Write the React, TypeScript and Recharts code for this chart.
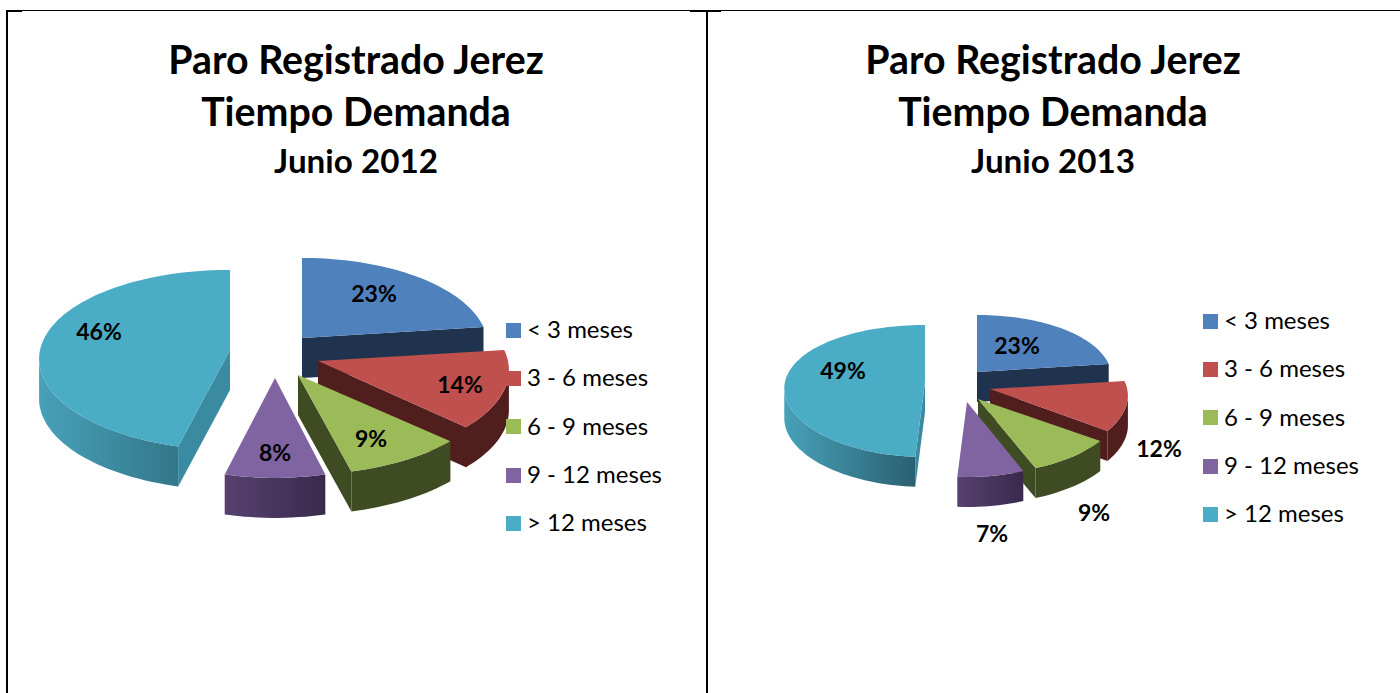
import { Legend, Pie, PieChart } from "recharts";

const categorias = ["< 3 meses", "3 - 6 meses", "6 - 9 meses", "9 - 12 meses", "> 12 meses"];
const valores2012 = [23, 14, 9, 8, 46];
const valores2013 = [23, 12, 9, 7, 49];

const colores = ["#4f81bd", "#c0504d", "#9bbb59", "#8064a2", "#4bacc6"];
const lados = [
  ["#1f334f", "#1f334f"],
  ["#4f1e1d", "#4f1e1d"],
  ["#3f4b23", "#3f4b23"],
  ["#574170", "#392a4c"],
  ["#47a1b9", "#33778a"],
];
const cortes = ["#1f334f", "#4f1e1d", "#3f4b23", "#392a4c", "#3a8aa1"];

interface Vista {
  id: string;
  izquierda: number;
  ancho: number;
  cx: number;
  cy: number;
  radio: number;
  ry: number;
  q: number;
  fondo: number;
  despl: number[][];
  escala: number[];
  etiquetas: number[][];
  legendX: number;
  legendY: number;
  lados: string[][];
}

const vista2012: Vista = {
  id: "a",
  izquierda: 8,
  ancho: 698,
  cx: 264,
  cy: 350,
  radio: 190,
  ry: 90,
  q: 0.11,
  fondo: 40,
  despl: [[30, -12], [46, 11], [26, 25], [3, 28], [-42, 0]],
  escala: [0.975, 1, 1.03, 0.97, 1],
  etiquetas: [[102, -57], [188, 34], [99, 88], [3, 102], [-173, -19]],
  legendX: 498,
  legendY: 306,
  lados,
};

const vista2013: Vista = {
  id: "b",
  izquierda: 708,
  ancho: 692,
  cx: 252,
  cy: 375,
  radio: 140,
  ry: 66,
  q: 0.136,
  fondo: 30,
  despl: [[17, -3], [30, 14], [18, 24], [7, 27], [-35, 7]],
  escala: [0.96, 0.98, 1.02, 1, 1],
  etiquetas: [[57, -30], [199, 73], [134, 137], [32, 158], [-117, -5]],
  legendX: 495,
  legendY: 297,
  lados: [lados[0], lados[1], lados[2], lados[3], ["#47a1b9", "#2b6071"]],
};

const FUENTE = "Lato, Carlito, sans-serif";
const PERSPECTIVA = 0.1;

// punto del disco inclinado: t es el angulo desde las 12 en sentido horario
function punto(v: Vista, i: number, ax: number, ay: number, t: number) {
  const rad = (t * Math.PI) / 180;
  const a = Math.sin(rad);
  const b = -Math.cos(rad);
  return [ax + v.radio * v.escala[i] * a * (1 + PERSPECTIVA * b), ay + v.ry * (b + v.q * b * b)];
}

function arco(v: Vista, i: number, ax: number, ay: number, t0: number, t1: number, dy = 0) {
  const pts: number[][] = [];
  const n = Math.max(2, Math.ceil(Math.abs(t1 - t0) / 2));
  for (let j = 0; j <= n; j++) {
    const p = punto(v, i, ax, ay, t0 + ((t1 - t0) * j) / n);
    pts.push([p[0], p[1] + dy]);
  }
  return pts;
}

const trazo = (pts: number[][]) =>
  "M" + pts.map((p) => `${p[0].toFixed(1)} ${p[1].toFixed(1)}`).join("L") + "Z";

function crearSector(v: Vista) {
  return function Sector3D(props: any) {
    const i = categorias.indexOf(props.name);
    const ax = props.cx + v.despl[i][0];
    const ay = props.cy + v.despl[i][1];
    const t0 = 90 - props.startAngle;
    const t1 = 90 - props.endAngle;
    const s0 = Math.sin((t0 * Math.PI) / 180);
    const s1 = Math.sin((t1 * Math.PI) / 180);
    const g0 = Math.max(t0, 96);
    const g1 = Math.min(t1, 264);
    const corte = (t: number) => {
      const p = punto(v, i, ax, ay, t);
      return [[ax, ay], p, [p[0], p[1] + v.fondo], [ax, ay + v.fondo]];
    };
    const gid = `lado-${v.id}-${i}`;
    const curva =
      g1 > g0 ? [...arco(v, i, ax, ay, g0, g1), ...arco(v, i, ax, ay, g1, g0, v.fondo)] : null;
    return (
      <g>
        <defs>
          <linearGradient id={gid} x1="0" y1="0" x2="1" y2="0">
            <stop offset="0" stopColor={v.lados[i][0]} />
            <stop offset="1" stopColor={v.lados[i][1]} />
          </linearGradient>
        </defs>
        {s1 > 0.001 && <path d={trazo(corte(t1))} fill={cortes[i]} />}
        {s0 < -0.001 && <path d={trazo(corte(t0))} fill={cortes[i]} />}
        {curva && <path d={trazo(curva)} fill={`url(#${gid})`} />}
        <path d={trazo([[ax, ay], ...arco(v, i, ax, ay, t0, t1)])} fill={colores[i]} />
      </g>
    );
  };
}

function crearEtiqueta(v: Vista) {
  return function Etiqueta(props: any) {
    const i = categorias.indexOf(props.name);
    return (
      <text
        x={props.cx + v.etiquetas[i][0]}
        y={props.cy + v.etiquetas[i][1]}
        textAnchor="middle"
        dominantBaseline="central"
        fontFamily={FUENTE}
        fontWeight={700}
        fontSize={23}
        fill="#000"
      >
        {props.value}%
      </text>
    );
  };
}

function Leyenda() {
  return (
    <div>
      {categorias.map((c, i) => (
        <div key={c} style={{ display: "flex", alignItems: "center", height: 48.3 }}>
          <span style={{ width: 15, height: 15, background: colores[i], marginRight: 6, flex: "none" }} />
          <span style={{ fontFamily: FUENTE, fontSize: 24, lineHeight: "46px", marginTop: -2, color: "#000", whiteSpace: "nowrap" }}>{c}</span>
        </div>
      ))}
    </div>
  );
}

function Panel({ v, valores, anio }: { v: Vista; valores: number[]; anio: string }) {
  const tabla = categorias.map((name, i) => ({ name, value: valores[i], fill: colores[i] }));
  const centro = v.ancho / 2 - 1;
  return (
    <div style={{ position: "absolute", left: v.izquierda, top: 0, width: v.ancho, height: 693 }}>
      <PieChart width={v.ancho} height={693} margin={{ top: 0, right: 0, bottom: 0, left: 0 }}>
        <Pie
          data={tabla}
          dataKey="value"
          nameKey="name"
          cx={v.cx}
          cy={v.cy}
          outerRadius={v.radio}
          startAngle={90}
          endAngle={-270}
          stroke="none"
          shape={crearSector(v)}
          label={crearEtiqueta(v)}
          labelLine={false}
          isAnimationActive={false}
        />
        <Legend
          content={() => <Leyenda />}
          wrapperStyle={{ position: "absolute", left: v.legendX, top: v.legendY, width: 190 }}
        />
      </PieChart>
      <div style={{ position: "absolute", left: 0, top: 0, width: v.ancho, color: "#000", fontFamily: FUENTE, fontWeight: 700 }}>
        {[
          ["Paro Registrado Jerez", 59, 39.3],
          ["Tiempo Demanda", 111, 39.3],
          [anio, 160, 33.2],
        ].map(([t, y, s]) => (
          <div
            key={t as string}
            style={{
              position: "absolute",
              left: centro - 300,
              width: 600,
              top: (y as number) - 30,
              height: 60,
              lineHeight: "60px",
              textAlign: "center",
              fontSize: s as number,
            }}
          >
            {t}
          </div>
        ))}
      </div>
    </div>
  );
}

const linea = (left: number, top: number, width: number, height: number) => (
  <div style={{ position: "absolute", left, top, width, height, background: "#000" }} />
);

export default function App() {
  return (
    <div style={{ position: "absolute", left: 0, top: 0, width: 1400, height: 693, overflow: "hidden", background: "#fff" }}>
      {linea(6, 10, 1394, 1)}
      {linea(6, 10, 16, 2)}
      {linea(690, 10, 31, 2)}
      {linea(6, 10, 2, 683)}
      {linea(706, 10, 2, 683)}
      <Panel v={vista2012} valores={valores2012} anio="Junio 2012" />
      <Panel v={vista2013} valores={valores2013} anio="Junio 2013" />
    </div>
  );
}
